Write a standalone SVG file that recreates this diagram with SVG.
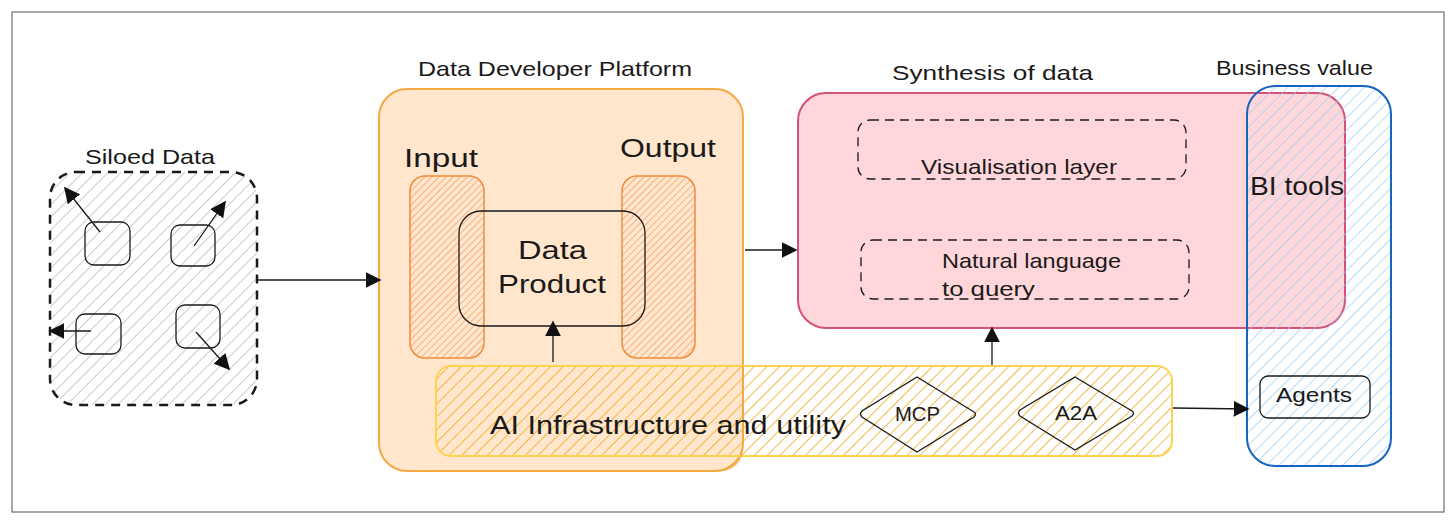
<svg xmlns="http://www.w3.org/2000/svg" width="1456" height="523" viewBox="0 0 1456 523">
<defs>
<pattern id="hGray" patternUnits="userSpaceOnUse" width="9" height="9" patternTransform="rotate(45)"><line x1="0" y1="0" x2="0" y2="9" stroke="#b5b5b5" stroke-width="1.4"/></pattern>
<pattern id="hOrange" patternUnits="userSpaceOnUse" width="5" height="5" patternTransform="rotate(45)"><line x1="0" y1="0" x2="0" y2="5" stroke="#f0843a" stroke-width="1.1"/></pattern>
<pattern id="hYellow" patternUnits="userSpaceOnUse" width="9" height="9" patternTransform="rotate(45)"><line x1="0" y1="0" x2="0" y2="9" stroke="#f0aa22" stroke-width="1.6"/></pattern>
<pattern id="hBlue" patternUnits="userSpaceOnUse" width="9" height="9" patternTransform="rotate(45)"><line x1="0" y1="0" x2="0" y2="9" stroke="#9ccff5" stroke-width="1.5"/></pattern>
<marker id="arrL" viewBox="0 0 10 10" refX="9" refY="5" markerWidth="16" markerHeight="16" markerUnits="userSpaceOnUse" orient="auto"><path d="M0,0 L10,5 L0,10 z" fill="#111"/></marker>
</defs>
<style>
text{font-family:"Liberation Sans",Arial,sans-serif;fill:#1a1a1a}
.t{font-size:21px}
.big{font-size:26px}
.thin{fill:none;stroke:#1a1a1a;stroke-width:1.3}
.conn{stroke:#1a1a1a;stroke-width:1.3;fill:none}
</style>
<rect x="12" y="12" width="1432" height="500" fill="#fff" stroke="#555" stroke-width="1"/>

<g id="siloed">
<rect x="50" y="172" width="207" height="233" rx="26" fill="url(#hGray)" stroke="#1a1a1a" stroke-width="2.5" stroke-dasharray="9 7"/>
<text class="t" x="85" y="164" textLength="130" lengthAdjust="spacingAndGlyphs">Siloed Data</text>
<rect class="thin" x="85" y="222" width="45" height="43" rx="9"/>
<rect class="thin" x="171" y="225" width="44" height="41" rx="9"/>
<rect class="thin" x="76" y="314" width="45" height="40" rx="9"/>
<rect class="thin" x="176" y="305" width="44" height="43" rx="9"/>
</g>

<g id="ddp">
<rect x="379" y="89" width="364" height="382" rx="28" fill="#ffe6cc" stroke="#f4a942" stroke-width="2"/>
<text class="t" x="418" y="76" textLength="274" lengthAdjust="spacingAndGlyphs">Data Developer Platform</text>
</g>
<g id="input">
<rect x="410" y="176" width="74" height="182" rx="15" fill="url(#hOrange)" stroke="#f08a3c" stroke-width="1.5"/>
<text class="big" x="404" y="167" textLength="74" lengthAdjust="spacingAndGlyphs">Input</text>
</g>
<g id="output">
<rect x="622" y="176" width="73" height="182" rx="15" fill="url(#hOrange)" stroke="#f08a3c" stroke-width="1.5"/>
<text class="big" x="620" y="157" textLength="96" lengthAdjust="spacingAndGlyphs">Output</text>
</g>
<g id="dataproduct">
<rect class="thin" x="459" y="211" width="186" height="115" rx="22"/>
<text class="big" x="518" y="259" textLength="69" lengthAdjust="spacingAndGlyphs">Data</text>
<text class="big" x="498" y="293" textLength="108" lengthAdjust="spacingAndGlyphs">Product</text>
</g>

<g id="ai">
<rect x="436" y="366" width="736" height="90" rx="15" fill="url(#hYellow)" stroke="#ffd24d" stroke-width="2"/>
<path d="M743,366 L743,443 Q743,471 715,471 L436,471" fill="none" stroke="#f4a942" stroke-width="1.5" opacity="0.8"/>
<text class="big" x="490" y="434" textLength="356" lengthAdjust="spacingAndGlyphs">AI Infrastructure and utility</text>
</g>
<g id="mcp">
<path d="M917,377 L974,412 Q977,414 974,417 L917,452 L862,417 Q859,414 862,411 Z" fill="none" stroke="#1a1a1a" stroke-width="1.3"/>
<text class="t" x="895" y="421" textLength="45" lengthAdjust="spacingAndGlyphs">MCP</text>
</g>
<g id="a2a">
<path d="M1075,377 L1132,411 Q1135,413 1132,416 L1075,450 L1020,416 Q1017,413 1020,410 Z" fill="none" stroke="#1a1a1a" stroke-width="1.3"/>
<text class="t" x="1055" y="420" textLength="42" lengthAdjust="spacingAndGlyphs">A2A</text>
</g>

<g id="synthesis">
<rect x="798" y="93" width="547" height="235" rx="28" fill="#ffd6d9" stroke="#d4527a" stroke-width="2"/>
<text class="t" x="892" y="80" textLength="201" lengthAdjust="spacingAndGlyphs">Synthesis of data</text>
</g>
<g id="visual">
<rect x="858" y="120" width="328" height="59" rx="12" fill="none" stroke="#1a1a1a" stroke-width="1.3" stroke-dasharray="9 6"/>
<text class="t" x="921" y="174" textLength="196" lengthAdjust="spacingAndGlyphs">Visualisation layer</text>
</g>
<g id="nlq">
<rect x="861" y="240" width="328" height="59" rx="12" fill="none" stroke="#1a1a1a" stroke-width="1.3" stroke-dasharray="9 6"/>
<text class="t" x="942" y="268" textLength="179" lengthAdjust="spacingAndGlyphs">Natural language</text>
<text class="t" x="942" y="296" textLength="93" lengthAdjust="spacingAndGlyphs">to query</text>
</g>

<g id="business">
<rect x="1247" y="86" width="144" height="380" rx="28" fill="url(#hBlue)" stroke="#1565c0" stroke-width="2"/>
<text class="t" x="1216" y="75" textLength="157" lengthAdjust="spacingAndGlyphs">Business value</text>
<text class="big" x="1250" y="195" textLength="94" lengthAdjust="spacingAndGlyphs">BI tools</text>
</g>
<g id="agents">
<rect class="thin" x="1260" y="376" width="110" height="42" rx="8"/>
<text class="t" x="1276" y="402" textLength="76" lengthAdjust="spacingAndGlyphs">Agents</text>
</g>

<g id="connectors">
<line class="conn" x1="100" y1="232" x2="65" y2="188" marker-end="url(#arrL)"/>
<line class="conn" x1="194" y1="246" x2="225" y2="202" marker-end="url(#arrL)"/>
<line class="conn" x1="91" y1="331" x2="50" y2="331" marker-end="url(#arrL)"/>
<line class="conn" x1="196" y1="332" x2="229" y2="369" marker-end="url(#arrL)"/>
<line class="conn" x1="257" y1="280" x2="380" y2="280" marker-end="url(#arrL)"/>
<line class="conn" x1="553" y1="362" x2="553" y2="322" marker-end="url(#arrL)"/>
<line class="conn" x1="745" y1="250" x2="796" y2="250" marker-end="url(#arrL)"/>
<line class="conn" x1="992" y1="365" x2="992" y2="328" marker-end="url(#arrL)"/>
<line class="conn" x1="1173" y1="408" x2="1248" y2="409" marker-end="url(#arrL)"/>
</g>
</svg>
